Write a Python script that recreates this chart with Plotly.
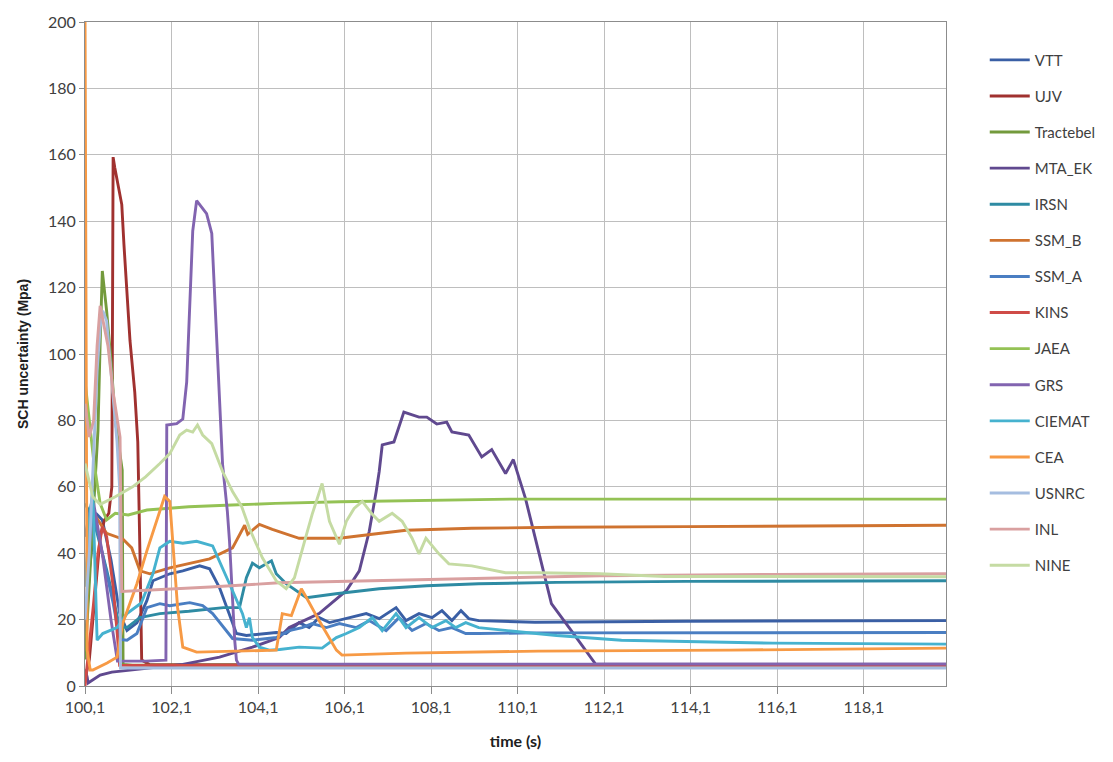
import plotly.graph_objects as go

names = ["VTT", "UJV", "Tractebel", "MTA_EK", "IRSN", "SSM_B", "SSM_A", "KINS",
         "JAEA", "GRS", "CIEMAT", "CEA", "USNRC", "INL", "NINE"]
colors = ["#3A5FA5", "#A0312F", "#739A3C", "#60498F", "#2E8BA3", "#CF7330", "#4A7EC2", "#CF4B47",
          "#94C255", "#8264B0", "#46B2CF", "#F79A45", "#A5BDE0", "#D9A0A0", "#C5DBA3"]

vtt_t = [100.1, 100.2, 100.35, 100.5, 100.7, 100.9, 101.07, 101.3, 101.53, 101.67, 102.06, 102.36, 102.75,
         102.98, 103.21, 103.44, 103.6, 103.83, 104.52, 104.75, 105.05, 105.28, 105.51, 105.75, 106.14, 106.6,
         106.9, 107.29, 107.52, 107.82, 108.12, 108.35, 108.58, 108.79, 108.97, 109.2, 110.5, 114, 120]
vtt_y = [10, 35, 52, 50, 38, 22, 16.7, 19, 25.7, 31.7, 33.8, 34.7, 36.2,
         35.3, 29.6, 21.8, 15.8, 15.2, 16.1, 15.8, 19.1, 17.6, 20.6, 19.1, 20.3, 21.8,
         20.3, 23.6, 19.7, 21.8, 20.6, 22.7, 19.7, 22.7, 20.3, 19.7, 19.2, 19.5, 19.7]

ujv_t = [100.1, 100.2, 100.35, 100.45, 100.55, 100.65, 100.72, 100.75, 100.79, 100.95, 101.0, 101.14,
         101.25, 101.32, 101.37, 101.41, 101.6, 120]
ujv_y = [2, 8, 30, 45, 50, 52, 60, 159.3, 156, 145, 133, 104, 88.5, 73.5, 40, 7.8, 6.4, 6.4]

tra_t = [100.1, 100.2, 100.3, 100.4, 100.45, 100.5, 100.6, 100.7, 100.8, 100.9, 100.96, 100.98, 101.2, 120]
tra_y = [8, 30, 55, 77, 103, 125, 113, 98, 80, 70, 65, 6.5, 6.3, 6.3]

mta_t = [100.1, 100.15, 100.17, 100.28, 100.45, 100.72, 101.14, 101.83, 102.36, 103.21, 103.97, 104.59,
         104.82, 105.51, 106.14, 106.44, 106.67, 106.83, 106.9, 106.97, 107.24, 107.47, 107.82, 108.0,
         108.23, 108.46, 108.58, 108.97, 109.27, 109.5, 109.82, 110.0, 110.28, 110.58, 110.88, 111.34,
         111.9, 120]
mta_y = [5, 2.7, 0.9, 1.8, 3.3, 4.2, 4.8, 5.7, 6.5, 8.7, 11.7, 14.6,
         17.6, 21.8, 28.7, 34.7, 46.6, 58.6, 64.6, 72.6, 73.5, 82.5, 81, 81,
         78.9, 79.5, 76.5, 75.6, 69, 71.2, 64, 68.2, 56.5, 40.7, 24.8, 16.7,
         6.6, 6.6]

irsn_t = [100.1, 100.3, 100.6, 100.9, 101.07, 101.37, 101.83, 102.5, 103.3, 103.67, 103.83, 103.97,
          104.13, 104.41, 104.52, 104.75, 105.22, 105.9, 106.9, 108.0, 109.2, 111, 114, 120]
irsn_y = [55, 50, 35, 18, 17.6, 20.6, 21.8, 22.5, 23.6, 23.6, 32.6, 37,
          35.6, 37.7, 33.8, 30.8, 26.6, 27.8, 29.3, 30.2, 30.8, 31.2, 31.5, 31.7]

ssmb_t = [100.1, 100.3, 100.6, 100.98, 101.18, 101.37, 101.6, 102.06, 102.98, 103.51, 103.79, 103.86,
          104.13, 104.43, 105.05, 105.98, 106.74, 107.52, 109.04, 111, 114, 120]
ssmb_y = [45, 52, 46, 44.2, 41.6, 34.7, 33.8, 35.6, 38.3, 41.6, 48.4, 45.7,
          48.7, 47.2, 44.5, 44.5, 45.7, 46.9, 47.5, 47.8, 48, 48.4]

ssma_t = [100.1, 100.25, 100.5, 100.75, 100.9, 101.07, 101.3, 101.53, 101.83, 102.06, 102.52, 102.82,
          103.05, 103.37, 103.51, 103.97, 104.52, 104.82, 105.12, 105.35, 105.68, 105.98, 106.37, 106.67,
          107.06, 107.36, 107.66, 107.98, 108.28, 108.58, 108.9, 109.2, 110.5, 120]
ssma_y = [45, 55, 40, 25, 14, 13.8, 15.8, 23.6, 24.8, 24.2, 25.1, 24.2,
          21.8, 16.7, 14.3, 13.8, 14.6, 16.7, 17.6, 18.8, 17.6, 18.8, 17.6, 19.7,
          16.7, 20.6, 16.7, 18.8, 16.7, 17.6, 15.8, 15.8, 16, 16.1]

kins_t = [100.1, 100.2, 100.3, 100.4, 100.5, 100.6, 100.75, 100.85, 100.9, 101.5, 120]
kins_y = [0, 12, 25, 40, 48, 45, 30, 15, 6.2, 6.2, 6.2]

jaea_t = [100.1, 100.2, 100.3, 100.45, 100.6, 100.8, 100.98, 101.1, 101.53, 102.5, 103.5, 104.5, 106,
          108, 110, 120]
jaea_y = [92, 80, 68, 55, 50, 52, 51.7, 51.5, 53, 54, 54.5, 55, 55.5,
          56, 56.3, 56.3]

grs_t = [100.1, 100.3, 100.5, 100.7, 100.85, 101.5, 101.97, 101.99, 102.22, 102.36, 102.45, 102.48,
         102.59, 102.68, 102.82, 102.91, 103.03, 103.16, 103.28, 103.39, 103.44, 103.56, 103.6, 103.65, 120]
grs_y = [30, 55, 40, 20, 7.5, 7.5, 7.8, 78.6, 79, 80.4, 91.5, 100.4,
         137, 146.2, 143.8, 142.3, 136.3, 100.4, 66.7, 52.6, 43.6, 13.8, 7.8, 6.6, 6.6]

cie_t = [100.1, 100.2, 100.28, 100.38, 100.51, 100.84, 101.07, 101.4, 101.67, 101.83, 101.99, 102.06,
         102.36, 102.68, 103.05, 103.28, 103.51, 103.74, 103.83, 103.9, 103.97, 104.13, 104.36, 104.6,
         105.05, 105.58, 105.91, 106.14, 106.44, 106.74, 106.97, 107.29, 107.52, 107.82, 108.12, 108.44,
         108.67, 108.9, 109.2, 110, 111, 112.5, 116, 120]
cie_y = [30, 50, 58.6, 13.8, 15.8, 17.6, 21.8, 25, 33.8, 41.6, 43, 43.6,
         43, 43.6, 42.2, 35.6, 28.7, 21.8, 17.6, 20.6, 14.6, 11.7, 10.8, 11,
         11.7, 11.4, 14.6, 15.8, 17.6, 20.6, 16.7, 21.8, 17.6, 20.6, 17.6, 19.7,
         17.6, 19.1, 17.6, 16.5, 15.2, 13.8, 12.9, 12.6]

cea_t = [100.1, 100.15, 100.22, 100.28, 100.61, 100.84, 100.97, 101.3, 101.53, 101.94, 102.06, 102.24,
         102.36, 102.68, 104.52, 104.66, 104.87, 105.1, 105.22, 105.51, 105.91, 106.04, 107.52, 110.58,
         115, 120]
cea_y = [205, 10.8, 4.8, 4.8, 6.9, 8.7, 18.8, 30.8, 40.7, 57.1, 55.6, 23.6,
         11.7, 10.2, 10.8, 21.8, 21.2, 29.3, 26.6, 19.7, 10.8, 9.3, 9.9, 10.5,
         10.8, 11.4]

usn_t = [100.1, 100.2, 100.3, 100.38, 100.45, 100.51, 100.6, 100.84, 100.9, 100.92, 101.5, 120]
usn_y = [20, 40, 70, 95, 108, 113, 110, 73.5, 60, 5.4, 5.4, 5.4]

inl_t = [100.1, 100.2, 100.3, 100.38, 100.45, 100.55, 100.63, 100.75, 100.85, 100.91, 100.95, 101.5,
         102.06, 103, 104.59, 106, 109.2, 112, 116, 120]
inl_y = [85, 75, 80, 102.5, 114.5, 108, 102.5, 88.5, 80, 75, 28.5, 28.8,
         29.3, 29.8, 31.1, 31.5, 32.6, 33.2, 33.6, 33.8]

nine_t = [100.1, 100.28, 100.45, 100.8, 101.2, 101.5, 101.83, 102.06, 102.29, 102.45, 102.59, 102.7,
          102.82, 103.03, 103.28, 103.51, 103.72, 103.9, 104.2, 104.52, 104.75, 104.94, 105.22, 105.35,
          105.58, 105.75, 105.98, 106.14, 106.32, 106.51, 106.74, 106.9, 107.2, 107.43, 107.66, 107.82,
          107.98, 108.28, 108.51, 109.04, 109.82, 110.58, 112, 113.5, 120]
nine_y = [67, 57, 54.7, 57, 60, 63, 67, 70, 75.6, 77.1, 76.5, 78.6,
          75.6, 73, 64.6, 58.6, 54.1, 47.5, 38.6, 31.7, 29.3, 32.6, 45.7, 51.7,
          61, 49.6, 42.7, 49.6, 53.5, 55.6, 51.7, 49.6, 52, 49.6, 44.5, 39.8,
          44.5, 39.8, 36.8, 36.2, 34.1, 34.1, 33.8, 33, 32.9]

series_t = [vtt_t, ujv_t, tra_t, mta_t, irsn_t, ssmb_t, ssma_t, kins_t, jaea_t, grs_t, cie_t, cea_t,
            usn_t, inl_t, nine_t]
series_y = [vtt_y, ujv_y, tra_y, mta_y, irsn_y, ssmb_y, ssma_y, kins_y, jaea_y, grs_y, cie_y, cea_y,
            usn_y, inl_y, nine_y]

xtick_vals = [100.1, 102.1, 104.1, 106.1, 108.1, 110.1, 112.1, 114.1, 116.1, 118.1]
xtick_text = ["100,1", "102,1", "104,1", "106,1", "108,1", "110,1", "112,1", "114,1", "116,1", "118,1"]
ytick_vals = [0, 20, 40, 60, 80, 100, 120, 140, 160, 180, 200]

FONT = "Liberation Sans Narrow, Lato, Arial, sans-serif"

fig = go.Figure()
for i, n in enumerate(names):
    fig.add_trace(go.Scatter(
        x=series_t[i], y=series_y[i], mode="lines", name=n,
        line=dict(color=colors[i], width=2.9),
        legendgroup=n,
    ))

fig.update_layout(
    width=1113, height=762,
    margin=dict(l=85, r=165, t=16, b=76),
    paper_bgcolor="white", plot_bgcolor="white",
    font=dict(family=FONT, size=15, color="#404040"),
    showlegend=True,
    legend=dict(x=1.045, xanchor="left", y=0.9675, yanchor="top",
                font=dict(family=FONT, size=15, color="#404040"),
                tracegroupgap=13.6, itemwidth=40, bgcolor="rgba(0,0,0,0)"),
    xaxis=dict(range=[100.1, 120.0], tickmode="array", tickvals=xtick_vals, ticktext=xtick_text,
               showgrid=True, gridcolor="#BEBEBE", gridwidth=1,
               showline=True, linecolor="#8C8C8C", linewidth=1, mirror=True,
               ticks="outside", ticklen=7, tickcolor="#8C8C8C",
               zeroline=False,
               tickfont=dict(family=FONT, size=16, color="#404040"),
               title=dict(text="<b>time (s)</b>", font=dict(family=FONT, size=16, color="#202020"),
                          standoff=20)),
    yaxis=dict(range=[0, 200], tickmode="array", tickvals=ytick_vals,
               showgrid=True, gridcolor="#BEBEBE", gridwidth=1,
               showline=True, linecolor="#8C8C8C", linewidth=1, mirror=True,
               ticks="outside", ticklen=5, tickcolor="#8C8C8C",
               zeroline=False,
               tickfont=dict(family=FONT, size=16, color="#404040"),
               title=dict(text="<b>SCH uncertainty (Mpa)</b>",
                          font=dict(family="Liberation Sans, Arial, sans-serif", size=14, color="#202020"),
                          standoff=16)),
)

fig.write_html("out.html")
